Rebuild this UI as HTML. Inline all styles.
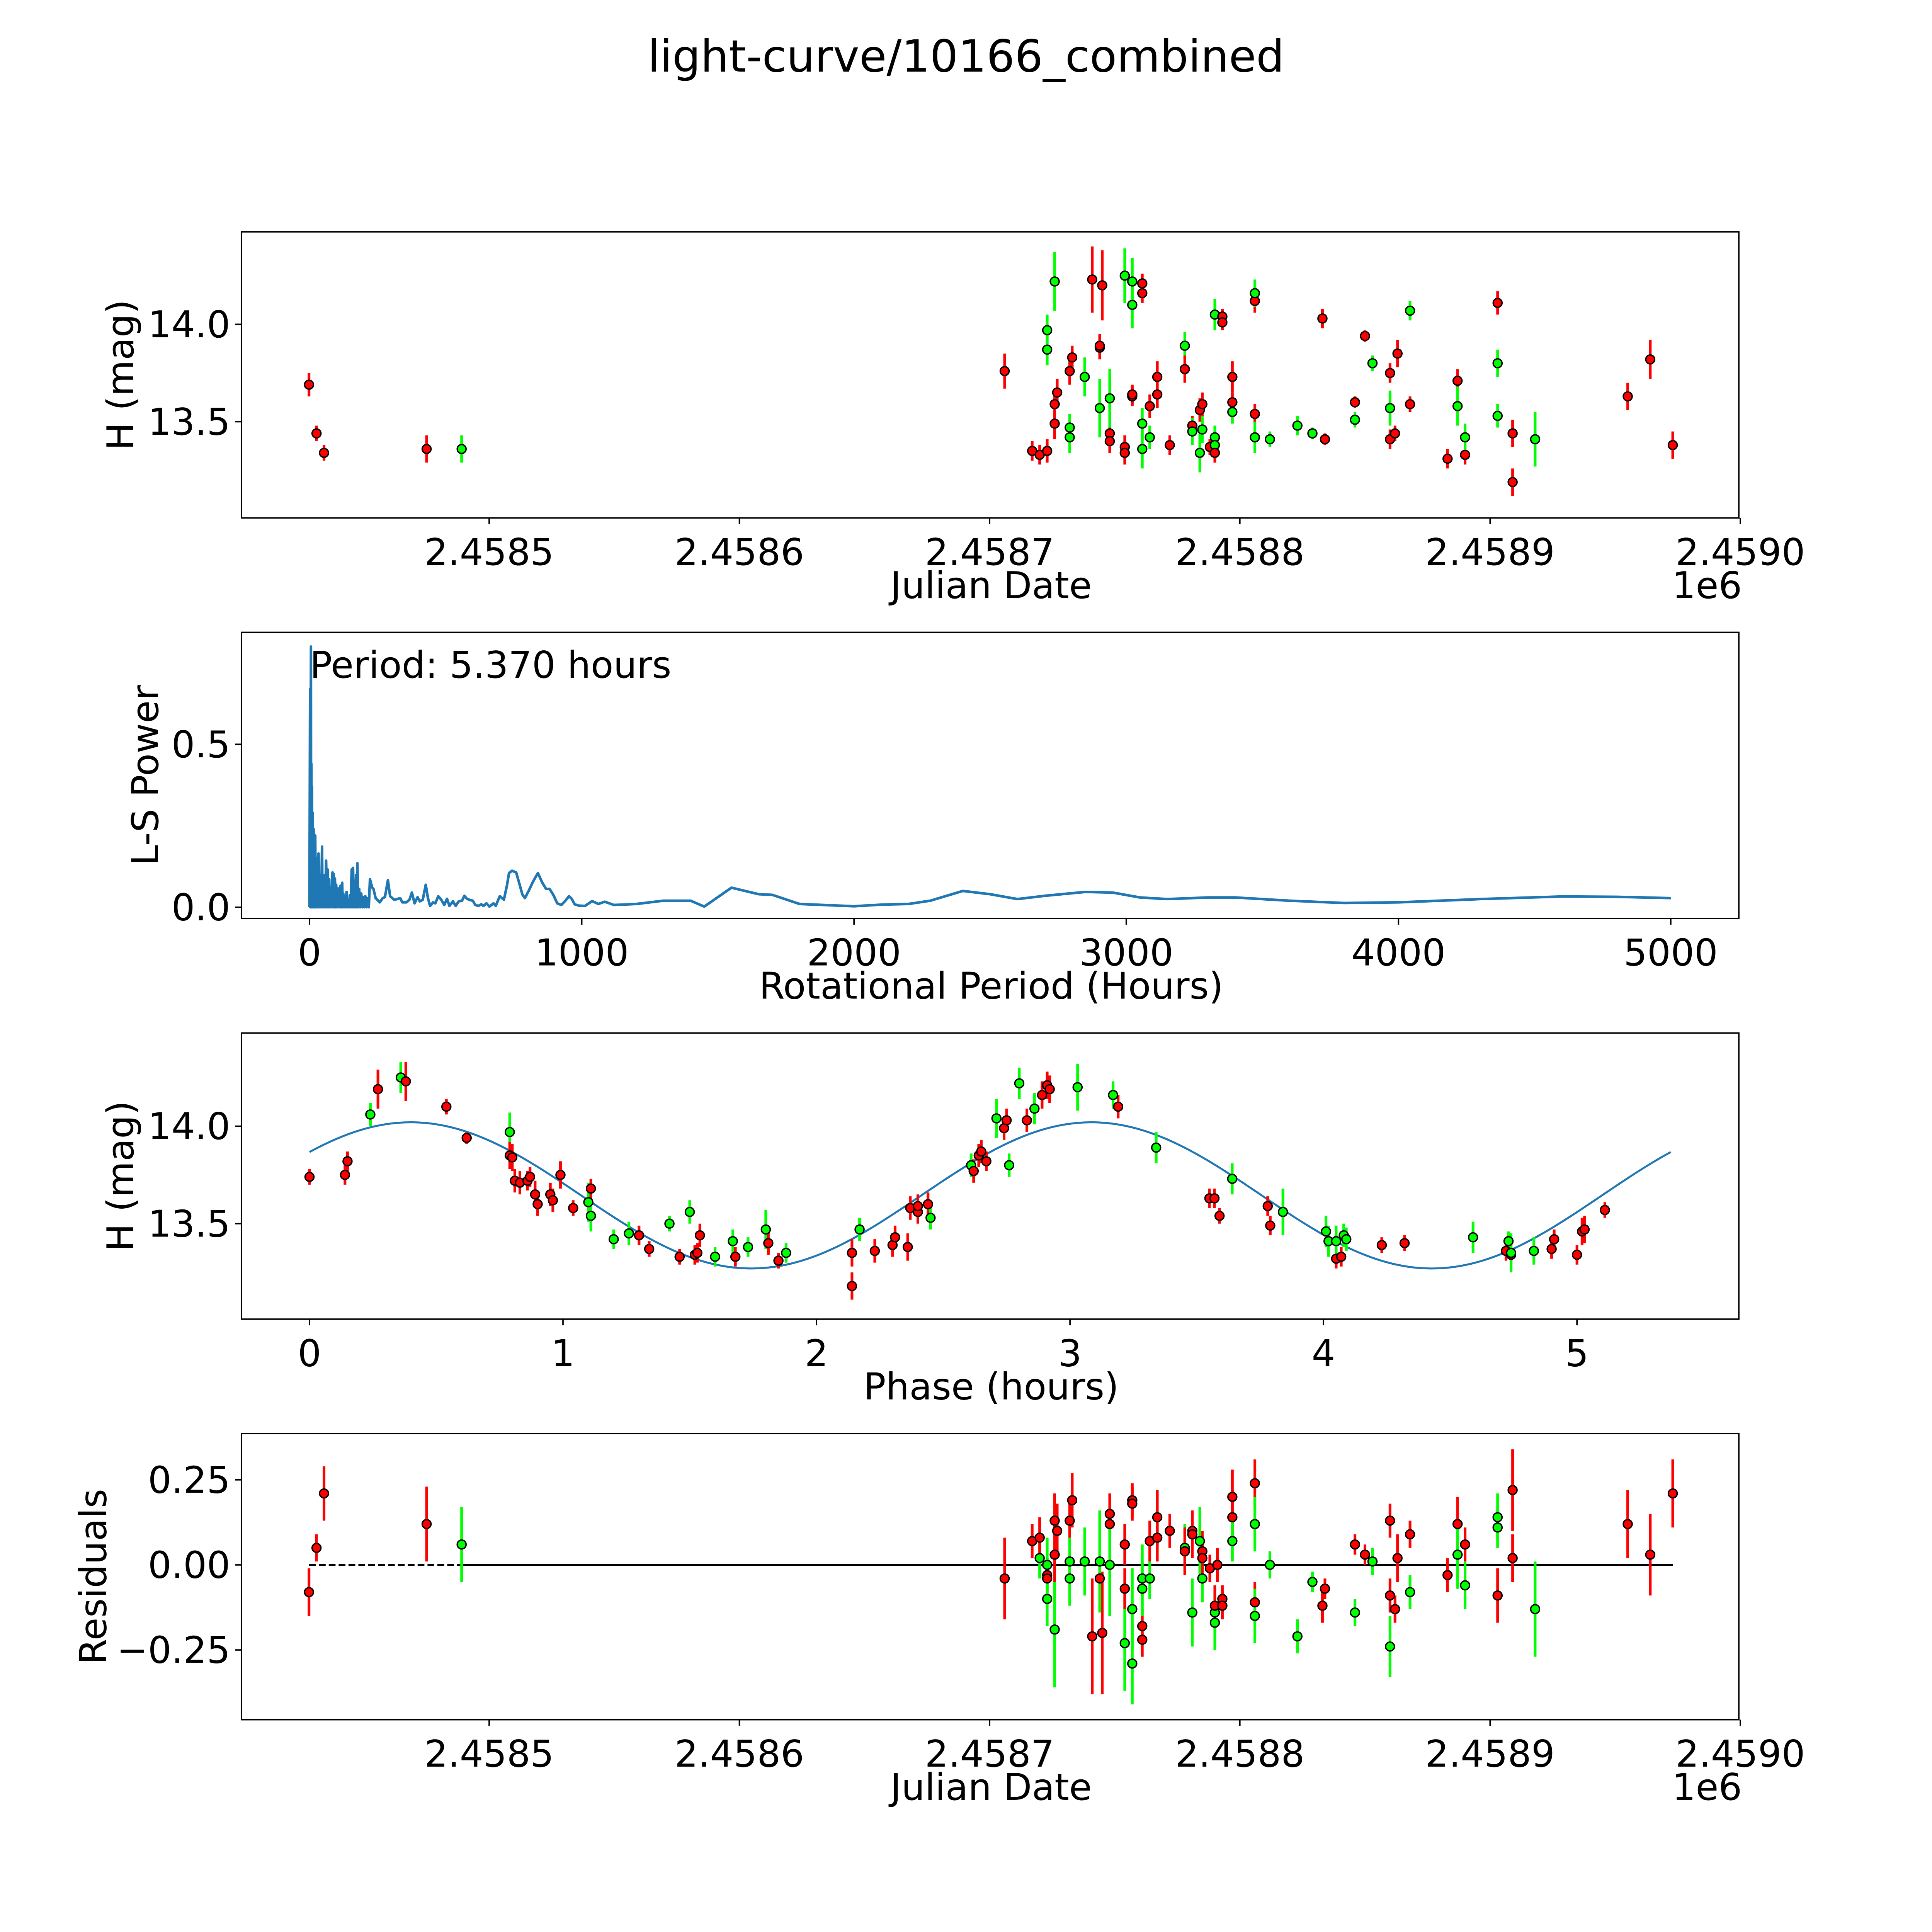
<!DOCTYPE html>
<html><head><meta charset="utf-8"><style>
html,body{margin:0;padding:0;background:#fff;overflow:hidden;width:100vw;height:100vh}
svg{display:block;width:100vw;height:100vh}
text{font-family:"DejaVu Sans","Liberation Sans",sans-serif;fill:#000}
</style></head><body>
<svg id="fig" xmlns="http://www.w3.org/2000/svg" viewBox="0 0 1565.2 1565.2" preserveAspectRatio="none">
<rect x="0" y="0" width="1565.2" height="1565.2" fill="#fff"/>
<text x="782.6" y="58" font-size="36" text-anchor="middle">light-curve/10166_combined</text>
</svg>
<script>
// ---------- data: light curve (days = JD - 2458000) ----------
const lcDays=[428,431,434,475,489,706,717,720,723,723,723,726,726,726,727,732,732,732,733,738,741,744,744,745,744,748,748,748,754,754,754,757,757,757,757,761,761,761,761,764,764,767,767,772,778,778,781,781,785,784,784,785,788,790,790,790,790,793,793,797,797,797,806,806,806,806,812,823,829,833,834,846,846,850,853,860,860,860,862,863,868,868,883,887,887,890,890,903,903,903,909,909,918,955,964,973];
const lcMag=[13.69,13.44,13.34,13.36,13.36,13.76,13.35,13.33,13.35,13.87,13.97,14.22,13.49,13.59,13.65,13.42,13.47,13.76,13.83,13.73,14.23,13.88,13.89,14.20,13.57,13.44,13.40,13.62,14.25,13.37,13.34,14.22,14.10,13.63,13.64,14.21,14.16,13.49,13.36,13.42,13.58,13.64,13.73,13.38,13.89,13.77,13.48,13.45,13.46,13.34,13.56,13.59,13.37,14.05,13.42,13.38,13.34,14.04,14.01,13.73,13.60,13.55,14.12,14.16,13.54,13.42,13.41,13.48,13.44,14.03,13.41,13.60,13.51,13.94,13.80,13.75,13.57,13.41,13.44,13.85,13.59,14.07,13.31,13.71,13.58,13.33,13.42,14.11,13.80,13.53,13.44,13.19,13.41,13.63,13.82,13.38];
const lcErr=[.06,.04,.04,.07,.07,.09,.05,.05,.06,.08,.08,.15,.08,.08,.07,.08,.07,.07,.06,.1,.17,.06,.06,.18,.15,.06,.06,.15,.14,.06,.06,.12,.12,.05,.05,.05,.05,.08,.1,.06,.06,.07,.08,.05,.07,.07,.05,.07,.07,.1,.06,.06,.04,.08,.06,.06,.05,.04,.04,.08,.05,.06,.06,.07,.05,.08,.04,.05,.03,.05,.03,.03,.04,.03,.04,.05,.09,.05,.04,.07,.04,.05,.05,.06,.1,.05,.07,.06,.07,.06,.07,.07,.14,.07,.1,.07];
const lcColor="rrrrgrrrrg"+"ggrrrggrrg"+"rrrrgrrggr"+"rggrrrrggg"+"rrrrgrrggg"+"rrrgggrrrr"+"rgrgrggggr"+"rrgrgrgrrr"+"rgrrgrgrgg"+"rrgrrr";
// ---------- data: periodogram ----------
const lsPeriod=[0,2,3,5.4,6,7,8,9,10.5,12,13.5,15,16.5,18,19.5,21,23,25,27,28.7,31,33.2,35.5,37.7,39,40.7,43,46,48,49.8,53,55.8,58,61,64,66.4,69,72.4,75,77.7,81,84.5,87,89,91,93.5,96,98,100,103,106,110,112,114,117,120,122,124,127,130,133,136,139,141,145,148,151,155,157,160,163,166,168,171,173,176,179,182.5,186,190,194,198,201,205,209,213,218,222,230,235,243,258,269,277,288,296,311,322,333,341,356,367,376,386,397,405,416,427,435,443,454,462,473,484,495,505,514,527,537,548,560,569,578,590,600,609,620,631,639,650,661,676,684,699,714,725,733,744,759,771,782,791,805,820,839,854,869,882,895,910,925,940,953,963,974,989,1012,1038,1061,1084,1118,1148,1200,1300,1400,1450,1550,1650,1700,1800,2000,2100,2200,2280,2400,2500,2600,2700,2850,2950,3050,3150,3300,3400,3600,3800,4000,4300,4600,4800,5000];
const lsPower=[0,0.67,0,0.80,0,0.44,0,0.37,0,0.29,0,0.24,0,0.20,0,0.22,0,0.15,0,0.099,0,0.165,0,0.099,0,0.094,0,0.186,0,0.066,0,0.099,0,0.143,0,0.116,0,0.086,0,0.061,0,0.107,0,0.102,0,0.088,0,0.069,0,0.058,0,0.058,0,0.066,0,0.075,0,0.042,0,0.034,0,0.047,0,0.020,0,0.037,0,0.116,0,0.121,0,0.045,0,0.099,0,0.135,0,0.056,0,0.042,0,0.031,0,0.034,0,0.028,0,0.086,0.061,0.056,0.028,0.015,0.028,0.031,0.083,0.034,0.023,0.025,0.028,0.015,0.015,0.023,0.045,0.012,0.031,0.018,0.023,0.069,0.028,0.004,0.015,0.012,0.034,0.023,0.007,0.026,0.004,0.018,0.004,0.018,0.020,0.035,0.026,0.022,0.020,0.007,0.004,0.009,0.004,0.012,0.002,0.012,0.004,0.034,0.023,0.066,0.105,0.112,0.107,0.072,0.039,0.028,0.050,0.077,0.105,0.077,0.056,0.056,0.039,0.012,0.007,0.020,0.034,0.026,0.009,0.005,0.004,0.019,0.010,0.017,0.007,0.008,0.010,0.020,0.020,0.002,0.060,0.040,0.038,0.010,0.003,0.008,0.010,0.020,0.050,0.040,0.025,0.035,0.047,0.045,0.030,0.025,0.030,0.030,0.020,0.013,0.015,0.025,0.033,0.032,0.028];
// ---------- data: phased light curve ----------
const phHours=[0.00,0.14,0.15,0.24,0.27,0.36,0.38,0.54,0.62,0.79,0.79,0.80,0.81,0.83,0.86,0.87,0.89,0.90,0.95,0.96,0.99,1.04,1.10,1.11,1.11,1.20,1.26,1.30,1.34,1.42,1.46,1.50,1.52,1.53,1.54,1.60,1.67,1.68,1.73,1.80,1.81,1.85,1.88,2.14,2.14,2.17,2.23,2.30,2.31,2.36,2.37,2.40,2.40,2.44,2.45,2.61,2.62,2.64,2.65,2.67,2.71,2.74,2.75,2.76,2.80,2.83,2.86,2.89,2.91,2.92,3.03,3.17,3.19,3.34,3.55,3.57,3.59,3.64,3.78,3.79,3.84,4.01,4.02,4.05,4.07,4.05,4.08,4.09,4.23,4.32,4.59,4.72,4.74,4.73,4.74,4.83,4.90,4.91,5.00,5.02,5.03,5.11];
const phMag=[13.74,13.75,13.82,14.06,14.19,14.25,14.23,14.10,13.94,13.97,13.85,13.84,13.72,13.71,13.72,13.74,13.65,13.60,13.65,13.62,13.75,13.58,13.61,13.54,13.68,13.42,13.45,13.44,13.37,13.50,13.33,13.56,13.34,13.35,13.44,13.33,13.41,13.33,13.38,13.47,13.40,13.31,13.35,13.35,13.18,13.47,13.36,13.39,13.43,13.38,13.58,13.56,13.59,13.60,13.53,13.80,13.77,13.85,13.87,13.82,14.04,13.99,14.03,13.80,14.22,14.03,14.09,14.16,14.21,14.19,14.20,14.16,14.10,13.89,13.63,13.63,13.54,13.73,13.59,13.49,13.56,13.46,13.41,13.32,13.33,13.41,13.44,13.42,13.39,13.40,13.43,13.36,13.34,13.41,13.35,13.36,13.37,13.42,13.34,13.46,13.47,13.57];
const phErr=[.04,.05,.05,.06,.1,.08,.1,.04,.03,.1,.07,.07,.06,.06,.05,.05,.07,.06,.06,.06,.07,.04,.1,.08,.05,.05,.06,.05,.04,.04,.04,.06,.05,.05,.06,.05,.06,.05,.05,.1,.06,.04,.05,.07,.07,.06,.06,.06,.06,.07,.06,.06,.06,.06,.06,.06,.06,.06,.06,.05,.1,.06,.06,.06,.08,.06,.08,.07,.07,.07,.12,.07,.06,.08,.05,.05,.04,.08,.05,.05,.12,.08,.08,.05,.05,.08,.06,.06,.04,.04,.08,.05,.05,.05,.1,.07,.05,.05,.05,.07,.07,.04];
const phColor="rrrgrgrrrg"+"rrrrrrrrrr"+"rrggrggrrg"+"rgrrrggrgg"+"rrgrrgrrrr"+"rrrrggrrrr"+"grrggrgrrr"+"ggrgrrrgrr"+"gggrrgggrr"+"grrgggrrrrrr";
const fitMean=13.645, fitAmp=0.375, fitPeriod=2.685, fitPeak=0.40, fitEnd=5.37;
// ---------- data: residuals ----------
const resDays=[428,431,434,475,489,706,717,720,720,723,723,723,723,726,727,726,726,732,733,732,732,738,741,744,745,744,748,748,748,754,754,754,757,757,757,757,761,761,761,761,764,764,767,767,772,778,778,781,781,781,785,784,785,785,788,790,790,790,791,793,793,797,797,797,806,806,806,806,812,823,829,833,834,846,846,850,853,860,860,860,862,863,868,868,883,887,887,890,890,903,903,903,909,909,918,955,964,973];
const resVal=[-0.08,0.05,0.21,0.12,0.06,-0.04,0.07,0.02,0.08,-0.03,-0.04,-0.10,0.00,0.13,0.10,-0.19,0.03,0.13,0.19,-0.04,0.01,0.01,-0.21,-0.04,-0.20,0.01,0.15,0.12,0.00,-0.23,0.06,-0.07,-0.29,0.19,0.18,-0.13,-0.18,-0.22,-0.07,-0.04,-0.04,0.07,0.08,0.14,0.10,0.05,0.04,-0.14,0.10,0.09,-0.04,0.07,0.04,0.02,-0.01,-0.17,-0.14,-0.12,0.00,-0.10,-0.12,0.14,0.20,0.07,-0.11,0.24,0.12,-0.15,0.00,-0.21,-0.05,-0.12,-0.07,0.06,-0.14,0.03,0.01,0.13,-0.24,-0.09,-0.13,0.02,0.09,-0.08,-0.03,0.12,0.03,0.06,-0.06,-0.09,0.14,0.11,0.22,0.02,-0.13,0.12,0.03,0.21];
const resErr=[.07,.04,.08,.11,.11,.12,.05,.06,.06,.05,.06,.08,.08,.08,.08,.17,.08,.07,.08,.08,.07,.1,.17,.06,.18,.15,.06,.06,.15,.14,.06,.06,.12,.05,.05,.12,.05,.05,.08,.1,.06,.06,.07,.08,.05,.07,.07,.1,.05,.07,.07,.1,.06,.06,.04,.08,.06,.06,.05,.04,.04,.08,.08,.06,.06,.07,.08,.08,.04,.05,.03,.05,.03,.03,.04,.03,.04,.05,.09,.05,.04,.07,.04,.05,.05,.08,.1,.05,.07,.08,.07,.06,.12,.07,.14,.1,.12,.1];
const resColor="rrrrgrrgrr"+"rggrrgrrrg"+"ggrrrgrrgg"+"rrgrrgrrgg"+"grrrrgrgrr"+"ggrrrggrrr"+"rrrgrrgggg"+"grrrgrgrgr"+"rrrgrrgrgr"+"ggrrgrrr";
// tick label arrays
const jdTicks=[500,600,700,800,900,1000];
const jdTickLabels=["2.4585","2.4586","2.4587","2.4588","2.4589","2.4590"];
const magTicks=[13.5,14.0];
const magTickLabels=["13.5","14.0"];
const lsXTicks=[0,1000,2000,3000,4000,5000];
const lsYTicks=[0.0,0.5];
const lsYTickLabels=["0.0","0.5"];
const phXTicks=[0,1,2,3,4,5];
const resYTicks=[-0.25,0,0.25];
const resYTickLabels=["\u22120.25","0.00","0.25"];

const NS="http://www.w3.org/2000/svg";
const svg=document.getElementById('fig');
function mk(tag,attrs,parent){const e=document.createElementNS(NS,tag);for(const k in attrs)e.setAttribute(k,attrs[k]);(parent||svg).appendChild(e);return e;}
const L=195.6,R=1408.7,H=231.8;
const tops=[187.8,512.3,836.9,1161.4];
function lin(d0,d1,p0,p1){return v=>p0+(v-d0)*(p1-p0)/(d1-d0);}
const COL={r:"#ff0000",g:"#00ff00"};

function axesFrame(i,name){
  const g=mk('g',{});
  
  
  const r=mk('rect',{x:L,y:tops[i],width:R-L,height:H,fill:'none',stroke:'#000','stroke-width':1.16},g);
  
  
  return g;
}
function xTicks(g,ticks,labels,sx,i,name){
  const yb=tops[i]+H;
  ticks.forEach((t,k)=>{
    const x=sx(t);
    const tl=mk('line',{x1:x,x2:x,y1:yb,y2:yb+5,stroke:'#000','stroke-width':1.16},g);
    
    
    const tx=mk('text',{x:x,y:yb+38,'font-size':30,'text-anchor':'middle'},g);
    tx.textContent=labels[k];
    
    
  });
}
function yTicks(g,ticks,labels,sy,name){
  ticks.forEach((t,k)=>{
    const y=sy(t);
    const tl=mk('line',{x1:L-5,x2:L,y1:y,y2:y,stroke:'#000','stroke-width':1.16},g);
    
    
    const tx=mk('text',{x:L-9,y:y+10.5,'font-size':30,'text-anchor':'end'},g);
    tx.textContent=labels[k];
    
    
  });
}
function label(g,txt,x,y,rot,name){
  const t=mk('text',{x:x,y:y,'font-size':30,'text-anchor':'middle'},g);
  if(rot)t.setAttribute('transform','rotate(-90 '+x+' '+y+')');
  t.textContent=txt;
  
  
}
function clip(i,id){const c=mk('clipPath',{id:id});mk('rect',{x:L,y:tops[i],width:R-L,height:H},c);return 'url(#'+id+')';}
function points(g,xs,ys,es,cols,sx,sy,name){
  const pg=mk('g',{},g);
  xs.forEach((v,k)=>{
    const c=COL[cols[k]]||COL.r;
    const x=sx(v);
    const e=mk('line',{x1:x,x2:x,y1:sy(ys[k]+es[k]),y2:sy(ys[k]-es[k]),stroke:c,'stroke-width':2.2},pg);
    
    
  });
  xs.forEach((v,k)=>{
    const c=COL[cols[k]]||COL.r;
    const p=mk('circle',{cx:sx(v),cy:sy(ys[k]),r:3.6,fill:c,stroke:'#000','stroke-width':1.1},pg);
    
    
  });
}

// Panel 1
{
  const g=axesFrame(0,'light-curve-axes');
  const sx=lin(401,999.4,L,R), sy=lin(13.006,14.475,tops[0]+H,tops[0]);
  const cg=mk('g',{'clip-path':clip(0,'c0')},g);
  points(cg,lcDays,lcMag,lcErr,lcColor,sx,sy,'light-curve');
  xTicks(g,jdTicks,jdTickLabels,sx,0,'x-axis');
  yTicks(g,magTicks,magTickLabels,sy,'y-axis');
  label(g,'Julian Date',803,tops[0]+H+65,false,'x-axis-title');
  label(g,'1e6',1383,tops[0]+H+65,false,'x-axis-offset');
  label(g,'H (mag)',108,tops[0]+H/2,true,'y-axis-title');
}
// Panel 2
{
  const g=axesFrame(1,'periodogram-axes');
  const sx=lin(-250,5250,L,R), sy=lin(-0.0345,0.8436,tops[1]+H,tops[1]);
  let d='';
  lsPeriod.forEach((p,k)=>{d+=(k?'L':'M')+sx(p).toFixed(2)+' '+sy(lsPower[k]).toFixed(2);});
  const pl=mk('path',{d:d,fill:'none',stroke:'#1f77b4','stroke-width':2.1,'stroke-linejoin':'round','clip-path':clip(1,'c1')},g);
  
  
  xTicks(g,lsXTicks,lsXTicks.map(String),sx,1,'x-axis');
  yTicks(g,lsYTicks,lsYTickLabels,sy,'y-axis');
  label(g,'Rotational Period (Hours)',803,tops[1]+H+65,false,'x-axis-title');
  label(g,'L-S Power',128,tops[1]+H/2,true,'y-axis-title');
  const t=mk('text',{x:251,y:549,'font-size':30},g);
  t.textContent='Period: 5.370 hours';
  
  
}
// Panel 3
{
  const g=axesFrame(2,'phase-axes');
  const sx=lin(-0.2685,5.6385,L,R), sy=lin(13.01,14.478,tops[2]+H,tops[2]);
  const cg=mk('g',{'clip-path':clip(2,'c2')},g);
  let d='';
  for(let k=0;k<=300;k++){const p=fitEnd*k/300;const m=fitMean+fitAmp*Math.cos(2*Math.PI*(p-fitPeak)/fitPeriod);d+=(k?'L':'M')+sx(p).toFixed(2)+' '+sy(m).toFixed(2);}
  const fl=mk('path',{d:d,fill:'none',stroke:'#1f77b4','stroke-width':1.6},cg);
  
  
  points(cg,phHours,phMag,phErr,phColor,sx,sy,'phase');
  xTicks(g,phXTicks,phXTicks.map(String),sx,2,'x-axis');
  yTicks(g,magTicks,magTickLabels,sy,'y-axis');
  label(g,'Phase (hours)',803,tops[2]+H+65,false,'x-axis-title');
  label(g,'H (mag)',108,tops[2]+H/2,true,'y-axis-title');
}
// Panel 4
{
  const g=axesFrame(3,'residuals-axes');
  const sx=lin(401,999.4,L,R), sy=lin(-0.455,0.386,tops[3]+H,tops[3]);
  const cg=mk('g',{'clip-path':clip(3,'c3')},g);
  const z1=mk('line',{x1:sx(428),x2:sx(489),y1:sy(0),y2:sy(0),stroke:'#000','stroke-width':1.6,'stroke-dasharray':'5.5 2.5'},cg);
  
  
  const z2=mk('line',{x1:sx(489),x2:sx(973),y1:sy(0),y2:sy(0),stroke:'#000','stroke-width':1.6},cg);
  
  
  points(cg,resDays,resVal,resErr,resColor,sx,sy,'residual');
  xTicks(g,jdTicks,jdTickLabels,sx,3,'x-axis');
  yTicks(g,resYTicks,resYTickLabels,sy,'y-axis');
  label(g,'Julian Date',803,tops[3]+H+65,false,'x-axis-title');
  label(g,'1e6',1383,tops[3]+H+65,false,'x-axis-offset');
  label(g,'Residuals',86,tops[3]+H/2,true,'y-axis-title');
}
</script>
</body></html>
